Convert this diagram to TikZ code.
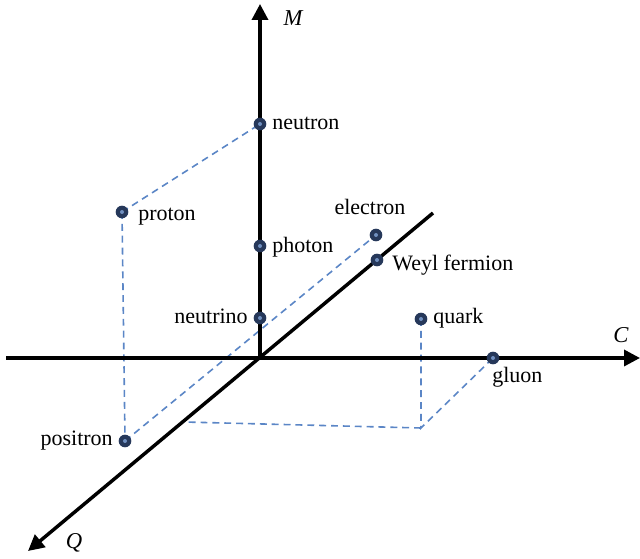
\documentclass[tikz,border=0pt]{standalone}
\usepackage{fontspec}
\setmainfont{Liberation Serif}
\usetikzlibrary{arrows.meta}
\definecolor{dotc}{HTML}{26385A}
\definecolor{dotin}{HTML}{7090C0}
\definecolor{dashc}{HTML}{5B86C6}
\tikzset{
  axis/.style={line width=2.6pt, -{Triangle[length=12pt,width=12pt]}},
  guide/.style={dashc, line width=1.2pt, dash pattern=on 5.2pt off 3.7pt},
  particle/.style={circle, fill=dotc, minimum size=9.5pt, inner sep=0pt,
    path picture={\fill[dotin] (path picture bounding box.center) circle (1.5pt);}},
  lbl/.style={font=\fontsize{16.5}{18}\selectfont, inner sep=0pt},
  axlbl/.style={font=\fontsize{17}{19}\selectfont\itshape, inner sep=0pt}
}
\begin{document}
\begin{tikzpicture}[x=0.75pt,y=-0.75pt]
\useasboundingbox (0,0) rectangle (640,559);
% axis points
\coordinate (O) at (260,358);
\coordinate (Mtip) at (260,4);
\coordinate (Cstart) at (6,358);
\coordinate (Ctip) at (640,358);
\coordinate (Qstart) at (433,213);
\coordinate (Qtip) at (28,551);
% particle positions
\coordinate (neutron) at (260,124);
\coordinate (proton) at (122,212);
\coordinate (photon) at (260,246);
\coordinate (electron) at (376,235);
\coordinate (weyl) at (377,260);
\coordinate (neutrino) at (260,318);
\coordinate (quark) at (421,319);
\coordinate (gluon) at (493,358);
\coordinate (positron) at (125,441);
\coordinate (qc) at (421,428);
\coordinate (qa) at (184,422);
% dashed guides
\draw[guide] (proton) -- (neutron);
\draw[guide] (proton) -- (positron);
\draw[guide] (positron) -- (electron);
\draw[guide] (quark) -- (qc) -- (gluon);
\draw[guide] (qc) -- (qa);
% axes
\draw[axis] (O) -- (Mtip);
\draw[axis] (Cstart) -- (Ctip);
\draw[axis] (Qstart) -- (Qtip);
\node[axlbl] (Mlab) at (293,18) {M};
\node[axlbl] (Clab) at (621,335) {C};
\node[axlbl] (Qlab) at (74,543) {Q};
% particles
\foreach \p in {neutron,proton,photon,electron,weyl,neutrino,quark,gluon,positron}
  \node[particle] (\p-dot) at (\p) {};
% labels
\node[lbl, anchor=base west] (neutron-l) at (272,130) {neutron};
\node[lbl, anchor=base west] (proton-l) at (138,221) {proton};
\node[lbl, anchor=base west] (photon-l) at (272,253) {photon};
\node[lbl, anchor=base] (electron-l) at (370,215) {electron};
\node[lbl, anchor=base west] (weyl-l) at (392,271) {Weyl fermion};
\node[lbl, anchor=base east] (neutrino-l) at (248,324) {neutrino};
\node[lbl, anchor=base west] (quark-l) at (433,324) {quark};
\node[lbl, anchor=base west] (gluon-l) at (492,383) {gluon};
\node[lbl, anchor=base east] (positron-l) at (113,446) {positron};
\end{tikzpicture}
\end{document}
